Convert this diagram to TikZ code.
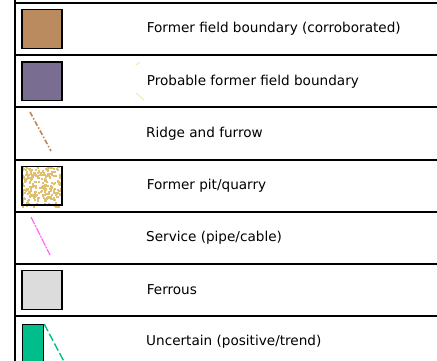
\documentclass[tikz,border=0pt]{standalone}
\usepackage{fontspec}
\setmainfont{DejaVu Sans}
\usetikzlibrary{positioning}
\definecolor{fieldbrown}{RGB}{186,139,94}
\definecolor{fieldpurple}{RGB}{121,110,145}
\definecolor{ridgebrown}{RGB}{186,136,88}
\definecolor{pitsand}{RGB}{224,192,110}
\definecolor{servicepink}{RGB}{250,110,250}
\definecolor{ferrousgrey}{RGB}{220,220,220}
\definecolor{uncgreen}{RGB}{0,190,140}
\definecolor{faintyellow}{RGB}{232,236,160}
\tikzstyle{swatch} = [draw=black, line width=1.2pt, minimum width=40pt, minimum height=38.5pt, inner sep=0pt]
\tikzstyle{keytext} = [font={\fontsize{13.6}{16}\selectfont}, inner sep=0pt]
\tikzstyle{rowrule} = [draw=black, line width=1.8pt]
\begin{document}
\begin{tikzpicture}[x=1pt,y=-1pt]
        \useasboundingbox (0,0) rectangle (437,361);
        % row rules
        \draw[rowrule] (15,3) -- (437,3);
        \draw[rowrule] (15,55.2) -- (437,55.2);
        \draw[rowrule] (15,107.4) -- (437,107.4);
        \draw[rowrule] (15,159.6) -- (437,159.6);
        \draw[rowrule] (15,211.8) -- (437,211.8);
        \draw[rowrule] (15,264) -- (437,264);
        \draw[rowrule] (15,316.2) -- (437,316.2);
        \draw[black, line width=1.5pt] (15,0) -- (15,361);
        % symbols
        \node[swatch,fill=fieldbrown](corr) at (42,29.1){};
        \node[swatch,fill=fieldpurple](prob) at (42,81.3){};
        \draw[ridgebrown, line width=1.6pt, dash pattern=on 5pt off 2pt on 1.5pt off 2pt] (30,112) -- (51,151);
        \pgfmathsetseed{11}
        \foreach \i in {1,...,230}{
          \pgfmathsetmacro{\px}{21.5+40*rnd}
          \pgfmathsetmacro{\py}{166+40*rnd}
          \fill[pitsand] (\px,\py) rectangle ++(2.2,2.2);
        }
        \node[swatch](pit) at (42,185.7){};
        \draw[servicepink, line width=1.3pt, dash pattern=on 8pt off 1pt on 2pt off 1pt] (31,217) -- (50,255);
        \node[swatch,fill=ferrousgrey](ferr) at (42,290){};
        \node[swatch,fill=uncgreen,minimum width=21pt,anchor=north west](unc) at (22,324){};
        \draw[uncgreen, line width=1.4pt, dash pattern=on 8pt off 3pt] (unc.north east) -- ++(20,38);
        \draw[faintyellow, line width=0.8pt] (136,65) -- (140,62);
        \draw[faintyellow, line width=0.8pt] (136,93) -- (144,100);
        % texts
        \node[keytext, right=84pt of corr](corrtext){Former field boundary (corroborated)};
        \node[keytext, right=84pt of prob](probtext){Probable former field boundary};
        \node[keytext, anchor=west](ridgetext) at (146,133.5){Ridge and furrow};
        \node[keytext, right=84pt of pit](pittext){Former pit/quarry};
        \node[keytext, anchor=west](servtext) at (146,237.8){Service (pipe/cable)};
        \node[keytext, right=84pt of ferr](ferrtext){Ferrous};
        \node[keytext, anchor=west](unctext) at (146,342.2){Uncertain (positive/trend)};
      \end{tikzpicture}
\end{document}
